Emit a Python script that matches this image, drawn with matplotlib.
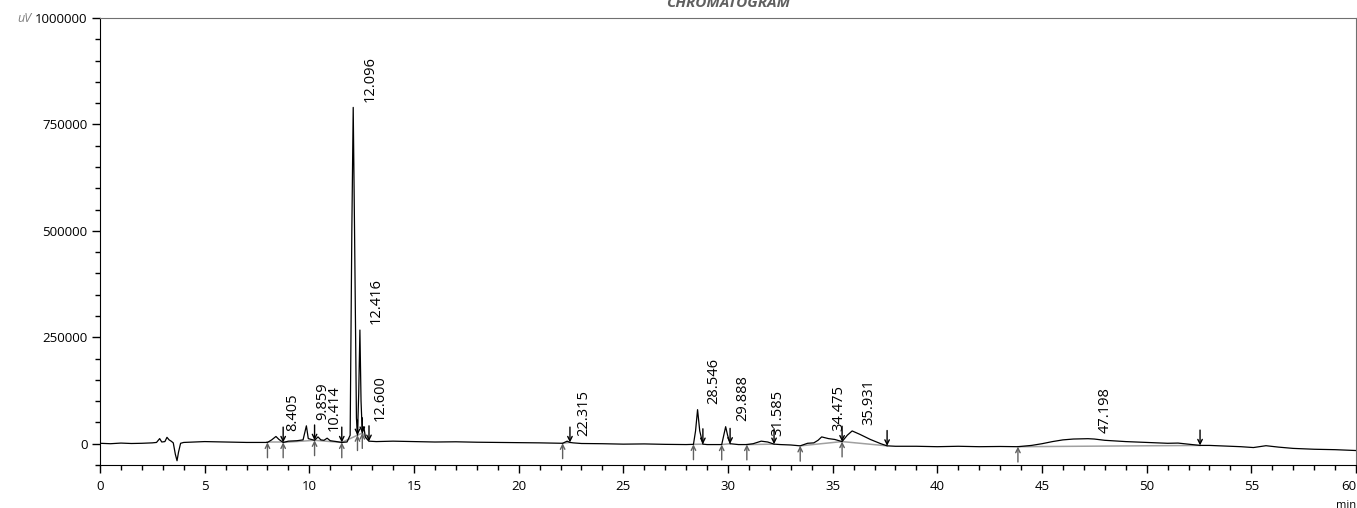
import numpy as np
from matplotlib import pyplot as plt
from matplotlib.ticker import MultipleLocator

plt.rcParams['font.family'] = ['Open Sans', 'DejaVu Sans']

# detector trace, minutes vs uV
trace_time = [0.0, 0.5, 1.0, 1.5, 2.0, 2.5, 2.7, 2.85, 2.95, 3.1, 3.2, 3.3, 3.4, 3.5,
              3.6, 3.68, 3.75, 3.85, 4.0, 4.5, 5.0, 5.5, 6.0, 6.5, 7.0, 7.5, 8.0,
              8.2, 8.405, 8.55, 8.75, 9.0, 9.4, 9.7, 9.859, 9.95, 10.1, 10.25, 10.414,
              10.55, 10.7, 10.85, 11.0, 11.3, 11.55, 11.8, 11.95, 12.03, 12.096, 12.16,
              12.25, 12.3, 12.36, 12.416, 12.47, 12.53, 12.6, 12.68, 12.85, 13.2, 14.0,
              15.0, 16.0, 17.0, 18.0, 19.0, 20.0, 21.0, 22.0, 22.1, 22.315, 22.45, 22.6,
              23.0, 24.0, 25.0, 26.0, 27.0, 28.0, 28.35, 28.45, 28.546, 28.65, 28.8,
              29.0, 29.7, 29.8, 29.888, 29.98, 30.1, 30.5, 30.9, 31.2, 31.585, 31.9,
              32.2, 32.5, 33.0, 33.45, 33.8, 34.1, 34.3, 34.475, 34.8, 35.1, 35.45,
              35.7, 35.931, 36.3, 36.8, 37.3, 37.6, 38.0, 39.0, 40.0, 41.0, 42.0, 43.0,
              43.85, 44.5, 45.0, 45.5, 46.0, 46.5, 47.198, 47.5, 48.0, 49.0, 50.0, 51.0,
              51.5, 52.0, 52.55, 53.0, 54.0, 54.5, 55.1, 55.7, 56.3, 57.0, 58.0, 59.0, 60.0]
trace_uv = [1000, 0, 1500, 500, 1000, 2000, 3000, 12000, 4000, 5000, 15000, 9000, 6000, 2000,
            -25000, -40000, -20000, 1000, 3000, 4000, 5000, 4500, 4000, 3500, 3000, 3000, 3000,
            9000, 17000, 10000, 3000, 6000, 7000, 9000, 42000, 12000, 10000, 8000, 16000,
            9000, 8000, 13000, 7000, 5000, 3000, 4000, 20000, 500000, 790000, 500000,
            60000, 20000, 120000, 267000, 100000, 25000, 40000, 15000, 6000, 5000, 6000,
            5000, 4000, 4500, 3500, 3000, 2500, 2000, 1000, 1000, 6000, 3000, 2000,
            500, 0, -1000, -500, -1500, -2000, -1500, 30000, 80000, 30000, -1000,
            -2000, -2000, 20000, 40000, 20000, 0, -2000, -2000, 0, 6000, 4000,
            -1000, -2000, -3000, -5000, 1000, 2000, 8000, 16000, 12000, 10000, 5000,
            20000, 30000, 22000, 10000, 0, -5000, -6000, -6000, -7000, -6000, -7000, -6500,
            -7000, -4000, 0, 5000, 9000, 11000, 11800, 11000, 8000, 5000, 3000, 1000,
            1500, -1000, -4000, -4000, -6000, -7000, -9000, -4700, -8000, -11000, -13000, -14000, -16000]

# integrated peaks
peak_rt = [8.405, 9.859, 10.414, 12.096, 12.416, 12.600, 22.315, 28.546,
           29.888, 31.585, 34.475, 35.931, 47.198]
peak_labels = ["8.405", "9.859", "10.414", "12.096", "12.416", "12.600", "22.315",
               "28.546", "29.888", "31.585", "34.475", "35.931", "47.198"]

# integration start / end marks
start_marks = [8.0, 8.75, 10.25, 11.55, 12.3, 12.53, 22.1, 28.35, 29.7, 30.9, 33.45, 35.45, 43.85]
end_marks = [8.75, 10.25, 11.55, 12.3, 12.53, 12.85, 22.45, 28.8, 30.1, 32.2, 35.45, 37.6, 52.55]

x_ticks = [0, 5, 10, 15, 20, 25, 30, 35, 40, 45, 50, 55, 60]
y_ticks = [0, 250000, 500000, 750000, 1000000]


def level(t):
    return np.interp(t, trace_time, trace_uv)


fig = plt.figure(figsize=(13.57, 5.08), dpi=100)
ax = fig.add_axes([100 / 1357, 43 / 508, 1256 / 1357, 447 / 508])

# baselines under the peaks
for s, e in zip(start_marks, end_marks):
    ax.plot([s, e], [level(s), level(e)], color="#a0a0a0", lw=1.1, zorder=1)

ax.plot(trace_time, trace_uv, color="black", lw=0.9, zorder=2)

for t in start_marks:
    y = level(t)
    ax.annotate("", xy=(t, y), xytext=(t, y - 36000),
                arrowprops=dict(arrowstyle="->", color="#606060", lw=1.0,
                                mutation_scale=8, shrinkA=0, shrinkB=0))
for t in end_marks:
    y = level(t)
    ax.annotate("", xy=(t, y), xytext=(t, y + 36000),
                arrowprops=dict(arrowstyle="->", color="black", lw=1.0,
                                mutation_scale=8, shrinkA=0, shrinkB=0))

for rt, lab in zip(peak_rt, peak_labels):
    ax.annotate(lab, xy=(rt, level(rt)), xytext=(12, 4), textcoords="offset points",
                rotation=90, ha="center", va="bottom", fontsize=10.5)

ax.set_xlim(0, 60)
ax.set_ylim(-50000, 1000000)
ax.set_xticks(x_ticks, [str(v) for v in x_ticks])
ax.xaxis.set_minor_locator(MultipleLocator(1))
ax.set_yticks(y_ticks, [str(v) for v in y_ticks])
ax.yaxis.set_minor_locator(MultipleLocator(50000))
ax.tick_params(which="major", length=6, width=1, labelsize=9.5, pad=3)
ax.tick_params(axis="x", which="major", pad=5)
ax.tick_params(which="minor", length=3.5, width=1)
ax.spines["top"].set_color("#707070")
ax.spines["right"].set_color("#707070")

# keep the last minute label inside the frame
ax.get_xticklabels()[-1].set_horizontalalignment("right")

fig.text(728 / 1357, 0.994, "CHROMATOGRAM", ha="center", va="center",
         fontsize=11, fontweight="bold", fontstyle="italic", color="#606060")
fig.text(24 / 1357, 1 - 18 / 508, "uV", ha="center", va="center",
         fontsize=9, fontstyle="italic", color="#808080")
fig.text(1346 / 1357, 1 - 505 / 508, "min", ha="center", va="center", fontsize=8)

fig.savefig("out.png", dpi=100)
